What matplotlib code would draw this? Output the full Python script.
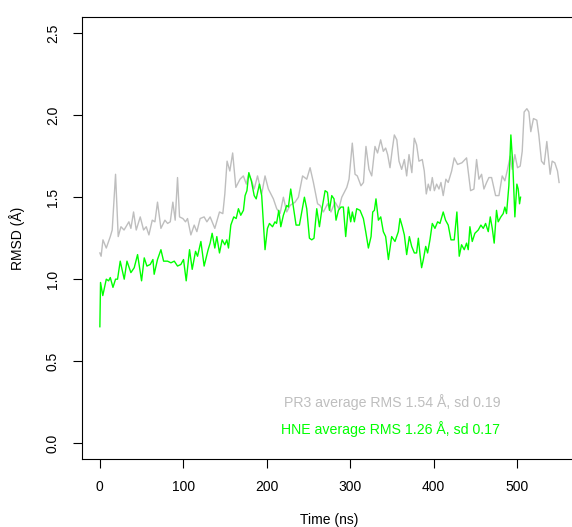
import matplotlib
matplotlib.use("Agg")
import matplotlib.pyplot as plt

# PR3 RMSD trace (time in ns, RMSD in Angstrom)
pr3_time = [
    0, 1.5, 3.7, 7.7, 12.5, 14.8, 18.8, 22, 25.3, 29,
    34.8, 37.2, 40.4, 43.6, 48.4, 52.4, 55.6, 58.8, 62.8, 66,
    69.1, 73.2, 78, 81.2, 84.4, 87.5, 90.3, 93.1, 95.5, 99.5,
    102.7, 105.1, 109.1, 113.1, 116.3, 120.2, 125, 128.3, 132.2, 137.8,
    143.4, 147.4, 149.8, 152.5, 155.8, 159.2, 163, 168, 172, 175.6,
    178.3, 182, 185, 189, 194, 198, 202, 208, 212, 216,
    220, 224, 228, 234, 238, 243, 248, 252, 256, 261,
    264, 268, 273, 277, 282, 286.5, 290, 296, 298.7, 302.6,
    305.9, 308.6, 313, 316, 319, 322.6, 325.9, 329.8, 332.9, 336.6,
    339.8, 342.6, 345, 347.8, 350.5, 353, 356, 358.6, 361.8, 365,
    367.8, 370.6, 374, 376.9, 379.7, 382.5, 386.5, 388.9, 391.3, 393.7,
    396, 398.5, 401, 403.7, 406.5, 408.9, 411.6, 414.8, 417.6, 421.7,
    424.8, 428.8, 434, 439.6, 444.4, 448.4, 451.6, 454.4, 457.6, 460.4,
    463.6, 466.4, 469.6, 474.4, 478.4, 482.3, 485.5, 488.7, 491.9, 494.3,
    497.5, 500.7, 503.9, 506.3, 508.6, 511.9, 514.3, 516.6, 519.8, 523.8,
    526.2, 529.4, 532.6, 535.8, 539.8, 542.2, 545.4, 548.6, 550.5,
]
pr3_rmsd = [
    1.16, 1.14, 1.24, 1.19, 1.26, 1.30, 1.64, 1.26, 1.32, 1.30,
    1.35, 1.31, 1.41, 1.30, 1.38, 1.30, 1.32, 1.27, 1.36, 1.35,
    1.47, 1.31, 1.36, 1.34, 1.35, 1.47, 1.36, 1.62, 1.38, 1.37,
    1.35, 1.37, 1.27, 1.33, 1.29, 1.37, 1.38, 1.35, 1.38, 1.31,
    1.41, 1.40, 1.52, 1.72, 1.66, 1.77, 1.56, 1.61, 1.63, 1.58,
    1.64, 1.60, 1.55, 1.63, 1.52, 1.63, 1.55, 1.49, 1.43, 1.40,
    1.50, 1.41, 1.45, 1.47, 1.50, 1.63, 1.61, 1.68, 1.59, 1.46,
    1.45, 1.41, 1.46, 1.41, 1.47, 1.43, 1.50, 1.56, 1.61, 1.83,
    1.64, 1.63, 1.57, 1.59, 1.81, 1.67, 1.63, 1.81, 1.77, 1.85,
    1.78, 1.80, 1.76, 1.68, 1.79, 1.88, 1.85, 1.72, 1.67, 1.73,
    1.63, 1.76, 1.65, 1.86, 1.82, 1.72, 1.73, 1.66, 1.52, 1.58,
    1.54, 1.62, 1.54, 1.58, 1.55, 1.59, 1.51, 1.61, 1.59, 1.66,
    1.74, 1.70, 1.71, 1.74, 1.54, 1.55, 1.73, 1.61, 1.64, 1.55,
    1.59, 1.62, 1.62, 1.51, 1.51, 1.63, 1.60, 1.67, 1.75, 1.67,
    1.76, 1.68, 1.69, 1.78, 2.02, 2.04, 2.02, 1.90, 1.98, 1.97,
    1.88, 1.72, 1.70, 1.84, 1.64, 1.72, 1.71, 1.66, 1.59,
]

# HNE RMSD trace
hne_time = [
    0, 0.8, 3.5, 7.7, 10.5, 12.5, 15.7, 18.8, 21.2, 24.4,
    29.2, 32.5, 37.2, 41.2, 45.2, 50, 53.2, 56.4, 60.4, 63.6,
    65.1, 69.1, 73.2, 76.4, 81.2, 85.2, 89.2, 93.1, 97.1, 100.3,
    103.5, 107.5, 110.7, 114.7, 117.1, 121.1, 125, 129.8, 132.2, 134.6,
    137.8, 140.2, 143.4, 146.6, 149.8, 152.2, 154.2, 157, 160.5, 163.4,
    166.1, 168.9, 172.1, 174.1, 176.3, 178.6, 181.6, 185, 187.4, 191.3,
    194, 198, 200.9, 203.3, 207, 209.9, 211.8, 214.5, 216.9, 220,
    224, 226, 228.8, 232, 235.2, 239.2, 242, 245.2, 248, 251.2,
    254, 256.7, 260, 263.2, 266.3, 270, 272.8, 275.2, 278, 280.7,
    283.1, 286, 289, 291.9, 294.7, 297.9, 300.7, 302.7, 305.1, 307.9,
    311.9, 315.9, 318.7, 321.9, 325.1, 327.1, 329.1, 331, 333.9, 336.7,
    339.8, 342.6, 345.9, 349.8, 353.8, 357.8, 359.8, 362.6, 365, 367.8,
    371, 373.8, 377, 379.7, 381.8, 383.8, 385.7, 387.8, 390.6, 392.9,
    395.7, 398.5, 401.7, 404.9, 407.7, 411.6, 414.4, 417.6, 420.9, 424.8,
    428, 430.8, 433.6, 436.8, 439.6, 441.6, 443.6, 446.4, 449.6, 453.6,
    456.8, 459.6, 462.4, 465.6, 468, 470.4, 472.7, 475.5, 477.5, 480.7,
    483.5, 485.5, 487.5, 490.3, 492.7, 495.1, 497.5, 499.9, 501.5, 503.1,
    504.3,
]
hne_rmsd = [
    0.71, 0.98, 0.90, 1.00, 0.99, 1.01, 0.95, 1.00, 1.00, 1.11,
    1.00, 1.11, 1.04, 1.07, 1.15, 0.99, 1.13, 1.08, 1.09, 1.12,
    1.03, 1.12, 1.18, 1.11, 1.11, 1.10, 1.11, 1.08, 1.09, 1.12,
    0.99, 1.18, 1.06, 1.17, 1.14, 1.23, 1.08, 1.18, 1.22, 1.28,
    1.19, 1.26, 1.16, 1.24, 1.21, 1.24, 1.19, 1.33, 1.38, 1.37,
    1.43, 1.39, 1.42, 1.51, 1.54, 1.65, 1.60, 1.51, 1.49, 1.58,
    1.51, 1.18, 1.31, 1.34, 1.32, 1.35, 1.34, 1.42, 1.32, 1.39,
    1.45, 1.44, 1.55, 1.44, 1.33, 1.33, 1.41, 1.50, 1.43, 1.25,
    1.24, 1.25, 1.43, 1.32, 1.43, 1.54, 1.53, 1.42, 1.51, 1.49,
    1.36, 1.42, 1.44, 1.44, 1.26, 1.44, 1.35, 1.41, 1.35, 1.43,
    1.42, 1.37, 1.29, 1.19, 1.26, 1.41, 1.42, 1.49, 1.36, 1.38,
    1.29, 1.26, 1.12, 1.26, 1.23, 1.29, 1.37, 1.32, 1.27, 1.15,
    1.26, 1.20, 1.16, 1.16, 1.25, 1.15, 1.07, 1.12, 1.20, 1.16,
    1.24, 1.34, 1.31, 1.35, 1.34, 1.41, 1.36, 1.33, 1.24, 1.24,
    1.41, 1.14, 1.21, 1.18, 1.22, 1.18, 1.32, 1.23, 1.28, 1.30,
    1.33, 1.31, 1.34, 1.29, 1.38, 1.31, 1.22, 1.42, 1.35, 1.38,
    1.40, 1.44, 1.40, 1.57, 1.88, 1.69, 1.38, 1.58, 1.55, 1.46,
    1.50,
]

x_ticks = [0, 100, 200, 300, 400, 500]
y_ticks = [0.0, 0.5, 1.0, 1.5, 2.0, 2.5]
pr3_note = "PR3 average RMS 1.54 Å, sd 0.19"
hne_note = "HNE average RMS 1.26 Å, sd 0.17"

GREY = "#BEBEBE"
GREEN = "#00FF00"

plt.rcParams["font.family"] = ["Liberation Sans", "DejaVu Sans"]
plt.rcParams["font.size"] = 10

fig = plt.figure(figsize=(5.72, 5.27), dpi=100)
# right edge of the box lies just outside the image, as in the original
ax = fig.add_axes([0.1425, 0.1281, 0.867, 0.8398])

ax.plot(pr3_time, pr3_rmsd, color=GREY, lw=1.0, solid_joinstyle="round")
ax.plot(hne_time, hne_rmsd, color=GREEN, lw=1.0, solid_joinstyle="round")

ax.text(480, 0.25, pr3_note, color=GREY, ha="right", va="center", fontsize=10.2)
ax.text(480, 0.085, hne_note, color=GREEN, ha="right", va="center", fontsize=10.2)

ax.set_xlim(-22, 572.5)
ax.set_ylim(-0.1, 2.6)
ax.set_xticks(x_ticks)
ax.set_xticklabels([str(t) for t in x_ticks])
ax.set_yticks(y_ticks)
ax.set_yticklabels([f"{t:.1f}" for t in y_ticks], rotation=90, va="center")

for sp in ax.spines.values():
    sp.set_linewidth(0.8)
    sp.set_color("black")

ax.tick_params(direction="out", length=6.5, width=0.8, labelsize=10)
ax.tick_params(axis="x", pad=8)
ax.tick_params(axis="y", pad=9)

ax.set_xlabel("Time (ns)", fontsize=10, labelpad=14)
ax.set_ylabel("RMSD (Å)", fontsize=10, labelpad=15)

fig.savefig("out.png", dpi=100)
